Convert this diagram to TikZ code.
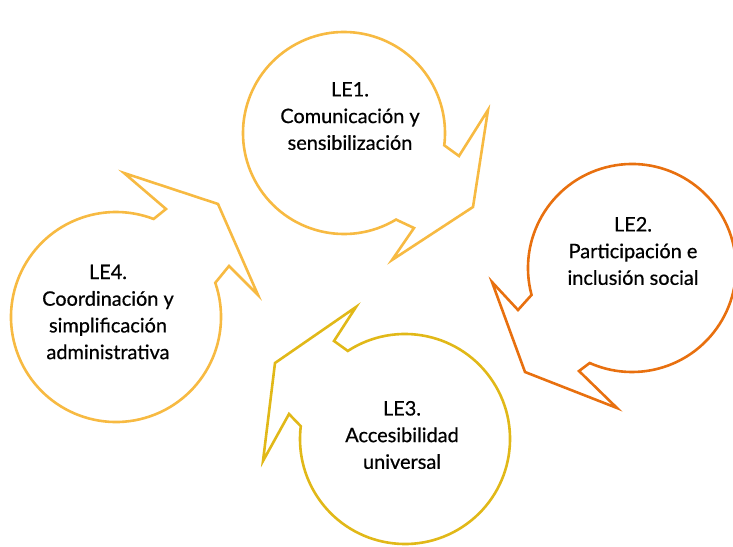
\documentclass[tikz,border=0pt]{standalone}
\usepackage{fontspec}
\setmainfont{Lato}[BoldFont=Lato, BoldFeatures={FakeBold=0.6}]
\usetikzlibrary{positioning}
\definecolor{leamber}{HTML}{F7BA42}
\definecolor{leorange}{HTML}{E8700F}
\definecolor{legold}{HTML}{E1B818}
\tikzset{
arrowband/.style={
  line width=2.6bp,
  line join=miter,
  fill=none
  },
letext/.style={
  align=center,
  inner sep=0pt,
  font=\fontsize{20}{26.8}\selectfont\bfseries
  },
}

\begin{document}
\begin{tikzpicture}[x=1bp,y=-1bp]
    \useasboundingbox (0,0) rectangle (733,547);
    % circular arrows
    \coordinate (c1) at (344,133);
    \coordinate (c2) at (632,268);
    \coordinate (c3) at (405,439);
    \coordinate (c4) at (116,317);
    \draw [arrowband, leamber] (c1) ++(59:101) arc[start angle=59, end angle=367, radius=101]
        -- (459,156) -- (488,110) -- (473,207) -- (392,260) -- (414,228) -- cycle;
    \draw [arrowband, leorange] (c2) ++(165:104) arc[start angle=165, end angle=474, radius=104]
        -- (579,371) -- (617,408) -- (525,372) -- (492,282) -- (518,310) -- cycle;
    \draw [arrowband, legold] (c3) ++(237:105) arc[start angle=237, end angle=547, radius=105]
        -- (289,414) -- (263,461) -- (275,363) -- (356,307) -- (334,341) -- cycle;
    \draw [arrowband, leamber] (c4) ++(341:105) arc[start angle=341, end angle=651, radius=105]
        -- (166,209) -- (124,173) -- (218,204) -- (258,295) -- (229,266) -- cycle;
    % labels
    \node [letext] (le1) at (350,116) {LE1.\\Comunicación y\\sensibilización};
    \node [letext] (le2) at (633,251) {LE2.\\Participación e\\inclusión social};
    \node [letext] (le3) at (402,435) {LE3.\\Accesibilidad\\universal};
    \node [letext] (le4) at (108,312) {LE4.\\Coordinación y\\simplificación\\administrativa};
\end{tikzpicture}
\end{document}
